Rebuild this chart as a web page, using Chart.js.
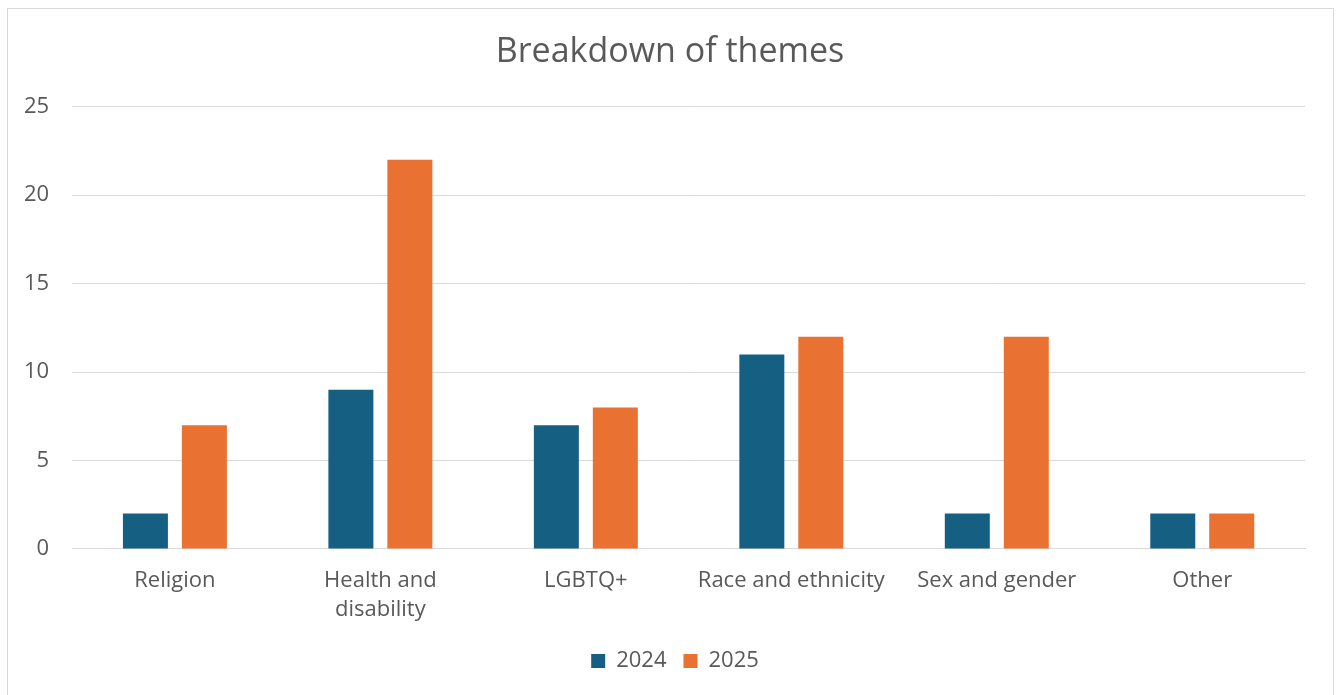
<!DOCTYPE html>
<html>
<head>
<meta charset="utf-8">
<script src="https://cdn.jsdelivr.net/npm/chart.js@4"></script>
<style>
  html, body { margin: 0; padding: 0; background: #fff; }
  #wrap { position: relative; width: 1338px; height: 695px; }
  #frame { position: absolute; left: 7px; top: 8px; width: 1325px; height: 700px; border: 1px solid #d9d9d9; pointer-events: none; }
</style>
</head>
<body>
<div id="wrap">
  <canvas id="themesChart" width="1338" height="695"></canvas>
  <div id="frame"></div>
</div>
<script>
  // dados
  var categorias = ['Religion', ['Health and', 'disability'], 'LGBTQ+', 'Race and ethnicity', 'Sex and gender', 'Other'];
  var valores2024 = [2, 9, 7, 11, 2, 2];
  var valores2025 = [7, 22, 8, 12, 12, 2];
  var ticksY = [0, 5, 10, 15, 20, 25];

  var fonte = "'Open Sans', 'Liberation Sans', sans-serif";
  var cinza = '#595959';

  var data = {
    labels: categorias,
    datasets: [
      { label: '2024', data: valores2024, backgroundColor: '#156082' },
      { label: '2025', data: valores2025, backgroundColor: '#E97132' }
    ]
  };

  // centraliza título e legenda na moldura (como no Excel)
  var centraliza = {
    id: 'centraliza',
    afterLayout: function (chart) {
      var caixas = [[chart.titleBlock, 17], [chart.legend, 22]];
      caixas.forEach(function (c) {
        if (c[0]) { c[0].left += c[1]; c[0].right += c[1]; }
      });
    }
  };

  var ctx = document.getElementById('themesChart');
  var myBarChart = new Chart(ctx, {
    type: 'bar',
    data: data,
    plugins: [centraliza],
    options: {
      responsive: false,
      animation: false,
      maintainAspectRatio: false,
      layout: { padding: { left: 1, right: 33, top: 10, bottom: 13 } },
      datasets: { bar: { categoryPercentage: 0.574, barPercentage: 0.763 } },
      plugins: {
        title: {
          display: true,
          text: 'Breakdown of themes',
          color: cinza,
          font: { family: fonte, size: 34, weight: 'normal' },
          padding: { top: 22, bottom: 34 }
        },
        legend: {
          position: 'bottom',
          labels: {
            color: cinza,
            boxWidth: 14,
            boxHeight: 14,
            padding: 17,
            font: { family: fonte, size: 22 }
          }
        },
        tooltip: { enabled: false }
      },
      scales: {
        x: {
          grid: { display: false },
          border: { display: true, color: '#d9d9d9' },
          ticks: {
            color: cinza,
            padding: 9,
            maxRotation: 0,
            autoSkip: false,
            font: { family: fonte, size: 22, lineHeight: 1.32 }
          }
        },
        y: {
          min: 0,
          max: 25,
          afterBuildTicks: function (axis) {
            axis.ticks = ticksY.map(function (v) { return { value: v }; });
          },
          grid: { color: '#d9d9d9', drawTicks: false },
          border: { display: false },
          ticks: {
            color: cinza,
            padding: 23,
            font: { family: fonte, size: 22 }
          }
        }
      }
    }
  });
</script>
</body>
</html>
